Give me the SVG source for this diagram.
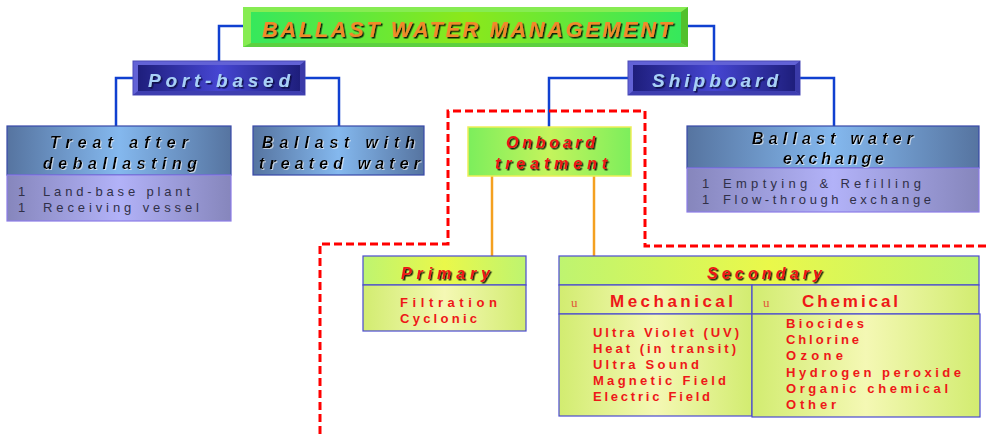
<svg xmlns="http://www.w3.org/2000/svg" width="987" height="434" viewBox="0 0 987 434">
<defs>
<linearGradient id="gTitle" x1="0" y1="0" x2="1" y2="0">
<stop offset="0" stop-color="#36e85c"/><stop offset="0.5" stop-color="#8ce81a"/><stop offset="1" stop-color="#36e85c"/>
</linearGradient>
<linearGradient id="gNavy" x1="0" y1="0" x2="1" y2="0">
<stop offset="0" stop-color="#1e1e7c"/><stop offset="0.5" stop-color="#4646d2"/><stop offset="1" stop-color="#1e1e7c"/>
</linearGradient>
<linearGradient id="gSteel" x1="0" y1="0" x2="1" y2="0">
<stop offset="0" stop-color="#5674a0"/><stop offset="0.5" stop-color="#84b8ee"/><stop offset="1" stop-color="#5674a0"/>
</linearGradient>
<linearGradient id="gLav" x1="0" y1="0" x2="1" y2="0">
<stop offset="0" stop-color="#8686bc"/><stop offset="0.5" stop-color="#b2b2f8"/><stop offset="1" stop-color="#8686bc"/>
</linearGradient>
<linearGradient id="gOnb" x1="0" y1="0" x2="1" y2="0">
<stop offset="0" stop-color="#7cee5c"/><stop offset="0.5" stop-color="#c4f45c"/><stop offset="1" stop-color="#7cee5c"/>
</linearGradient>
<linearGradient id="gHead" x1="0" y1="0" x2="1" y2="0">
<stop offset="0" stop-color="#bef470"/><stop offset="0.5" stop-color="#eaf84a"/><stop offset="1" stop-color="#bef470"/>
</linearGradient>
<linearGradient id="gBody" x1="0" y1="0" x2="1" y2="0">
<stop offset="0" stop-color="#d2ec70"/><stop offset="0.5" stop-color="#f4f8b4"/><stop offset="1" stop-color="#d2ec70"/>
</linearGradient>
<filter id="shDark" x="-10%" y="-30%" width="120%" height="160%">
<feDropShadow dx="1.5" dy="1.5" stdDeviation="0" flood-color="#000000" flood-opacity="0.85"/>
</filter>
<filter id="shNavy" x="-10%" y="-30%" width="120%" height="160%">
<feDropShadow dx="1.5" dy="1.5" stdDeviation="0" flood-color="#101040" flood-opacity="0.9"/>
</filter>
<filter id="shLight" x="-10%" y="-30%" width="120%" height="160%">
<feDropShadow dx="1" dy="1" stdDeviation="0" flood-color="#ffffff" flood-opacity="0.6"/>
</filter>
</defs>
<style>
.hd{font-family:"Liberation Sans",Arial,sans-serif;font-style:italic;font-weight:bold;}
.bd{font-family:"Liberation Sans",Arial,sans-serif;}
.blue{fill:none;stroke:#1040d0;stroke-width:2.5;}
.orng{fill:none;stroke:#f4a020;stroke-width:2.5;}
.dash{fill:none;stroke:#ff0000;stroke-width:3;stroke-dasharray:8 4;}
.steel{fill:url(#gSteel);stroke:#3848a8;stroke-width:1.2;}
.lav{fill:url(#gLav);stroke:#8c7ce8;stroke-width:1.2;}
.ghead{fill:url(#gHead);stroke:#4a4ad0;stroke-width:1.2;}
.gbody{fill:url(#gBody);stroke:#4a4ad0;stroke-width:1.2;}
.blk{fill:#000000;font-size:16px;}
.gray{fill:#303048;font-size:13px;}
.red{fill:#ee1818;}
.mark{font-family:"Liberation Serif",serif;fill:#e05838;font-size:13px;}
</style>

<g id="connectors">
<path class="blue" d="M243,26 H219 V61"/>
<path class="blue" d="M688,26 H714 V61"/>
<path class="blue" d="M133,78 H116 V126"/>
<path class="blue" d="M305,78 H339 V126"/>
<path class="blue" d="M628,78 H549 V127"/>
<path class="blue" d="M800,78 H834 V126"/>
<path class="orng" d="M492,176 V256"/>
<path class="orng" d="M594,176 V256"/>
<path class="dash" d="M320,434 V244 H448 V111 H645 V246 H987"/>
</g>

<g id="title">
<rect x="243" y="7" width="445" height="40" fill="#86ec52"/>
<polygon points="681,12 688,7 688,47 681,43" fill="#52c02c"/>
<polygon points="251,43 681,43 688,47 243,47" fill="#5cd040"/>
<rect x="251" y="12" width="430" height="31" fill="url(#gTitle)"/>
<text class="hd" x="262" y="37" font-size="22" fill="#f08a2c" filter="url(#shDark)" textLength="410" lengthAdjust="spacing">BALLAST WATER MANAGEMENT</text>
</g>

<g id="port-based">
<rect x="133" y="61" width="172" height="34" fill="#6262d6" stroke="#4a4ab8" stroke-width="1"/>
<polygon points="300,65 305,61 305,95 300,91" fill="#3a3aa8"/>
<polygon points="138,91 300,91 305,95 133,95" fill="#3e3eb0"/>
<rect x="138" y="65" width="162" height="26" fill="url(#gNavy)"/>
<text class="hd" x="148" y="87" font-size="19" fill="#a8d0f8" filter="url(#shNavy)" textLength="142" lengthAdjust="spacing">Port-based</text>
</g>

<g id="shipboard">
<rect x="628" y="61" width="172" height="34" fill="#6262d6" stroke="#4a4ab8" stroke-width="1"/>
<polygon points="795,65 800,61 800,95 795,91" fill="#3a3aa8"/>
<polygon points="633,91 795,91 800,95 628,95" fill="#3e3eb0"/>
<rect x="633" y="65" width="162" height="26" fill="url(#gNavy)"/>
<text class="hd" x="652" y="87" font-size="19" fill="#a8d0f8" filter="url(#shNavy)" textLength="126" lengthAdjust="spacing">Shipboard</text>
</g>

<g id="treat-after">
<rect class="steel" x="7" y="126" width="224" height="49"/>
<rect class="lav" x="7" y="175" width="224" height="46"/>
<text class="hd blk" x="50" y="148" filter="url(#shLight)" textLength="138" lengthAdjust="spacing">Treat after</text>
<text class="hd blk" x="43" y="169" filter="url(#shLight)" textLength="154" lengthAdjust="spacing">deballasting</text>
<text class="bd gray" x="18" y="196">1</text>
<text class="bd gray" x="43" y="196" textLength="147" lengthAdjust="spacing">Land-base plant</text>
<text class="bd gray" x="18" y="212">1</text>
<text class="bd gray" x="43" y="212" textLength="156" lengthAdjust="spacing">Receiving vessel</text>
</g>

<g id="ballast-treated">
<rect class="steel" x="253" y="126" width="171" height="49"/>
<text class="hd blk" x="262" y="148" filter="url(#shLight)" textLength="153" lengthAdjust="spacing">Ballast with</text>
<text class="hd blk" x="259" y="169" filter="url(#shLight)" textLength="161" lengthAdjust="spacing">treated water</text>
</g>

<g id="onboard">
<rect x="468" y="127" width="163" height="49" fill="url(#gOnb)" stroke="#eeee58" stroke-width="1.5"/>
<text class="hd red" x="506" y="148" font-size="16" filter="url(#shDark)" textLength="89" lengthAdjust="spacing">Onboard</text>
<text class="hd red" x="495" y="169" font-size="16" filter="url(#shDark)" textLength="112" lengthAdjust="spacing">treatment</text>
</g>

<g id="exchange">
<rect class="steel" x="687" y="126" width="292" height="42"/>
<rect class="lav" x="687" y="168" width="292" height="44"/>
<text class="hd blk" x="752" y="144" filter="url(#shLight)" textLength="161" lengthAdjust="spacing">Ballast water</text>
<text class="hd blk" x="783" y="164" filter="url(#shLight)" textLength="101" lengthAdjust="spacing">exchange</text>
<text class="bd gray" x="702" y="188">1</text>
<text class="bd gray" x="723" y="188" textLength="198" lengthAdjust="spacing">Emptying &amp; Refilling</text>
<text class="bd gray" x="702" y="204">1</text>
<text class="bd gray" x="723" y="204" textLength="208" lengthAdjust="spacing">Flow-through exchange</text>
</g>

<g id="primary">
<rect class="ghead" x="363" y="256" width="163" height="29"/>
<rect class="gbody" x="363" y="285" width="163" height="46"/>
<text class="hd red" x="401" y="279" font-size="16" filter="url(#shDark)" textLength="89" lengthAdjust="spacing">Primary</text>
<text class="bd red" x="400" y="307" font-size="13" font-weight="bold" textLength="97" lengthAdjust="spacing">Filtration</text>
<text class="bd red" x="400" y="323" font-size="13" font-weight="bold" textLength="77" lengthAdjust="spacing">Cyclonic</text>
</g>

<g id="secondary">
<rect class="ghead" x="559" y="256" width="420" height="29"/>
<rect class="gbody" x="559" y="285" width="193" height="29"/>
<rect class="gbody" x="752" y="285" width="227" height="29"/>
<rect class="gbody" x="559" y="314" width="193" height="102"/>
<rect class="gbody" x="752" y="314" width="228" height="103"/>
<text class="hd red" x="707" y="279" font-size="16" filter="url(#shDark)" textLength="115" lengthAdjust="spacing">Secondary</text>
<text class="mark" x="571" y="307">u</text>
<text class="bd red" x="610" y="307" font-size="17" font-weight="bold" textLength="123" lengthAdjust="spacing">Mechanical</text>
<text class="mark" x="763" y="307">u</text>
<text class="bd red" x="802" y="307" font-size="17" font-weight="bold" textLength="96" lengthAdjust="spacing">Chemical</text>
<g class="bd red" font-size="13" font-weight="bold">
<text x="593" y="337" textLength="146" lengthAdjust="spacing">Ultra Violet (UV)</text>
<text x="593" y="353" textLength="143" lengthAdjust="spacing">Heat (in transit)</text>
<text x="593" y="369" textLength="106" lengthAdjust="spacing">Ultra Sound</text>
<text x="593" y="385" textLength="133" lengthAdjust="spacing">Magnetic Field</text>
<text x="593" y="401" textLength="117" lengthAdjust="spacing">Electric Field</text>
<text x="786" y="328" textLength="78" lengthAdjust="spacing">Biocides</text>
<text x="786" y="344" textLength="73" lengthAdjust="spacing">Chlorine</text>
<text x="786" y="360" textLength="57" lengthAdjust="spacing">Ozone</text>
<text x="786" y="377" textLength="175" lengthAdjust="spacing">Hydrogen peroxide</text>
<text x="786" y="393" textLength="162" lengthAdjust="spacing">Organic chemical</text>
<text x="786" y="409" textLength="50" lengthAdjust="spacing">Other</text>
</g>
</g>
</svg>
